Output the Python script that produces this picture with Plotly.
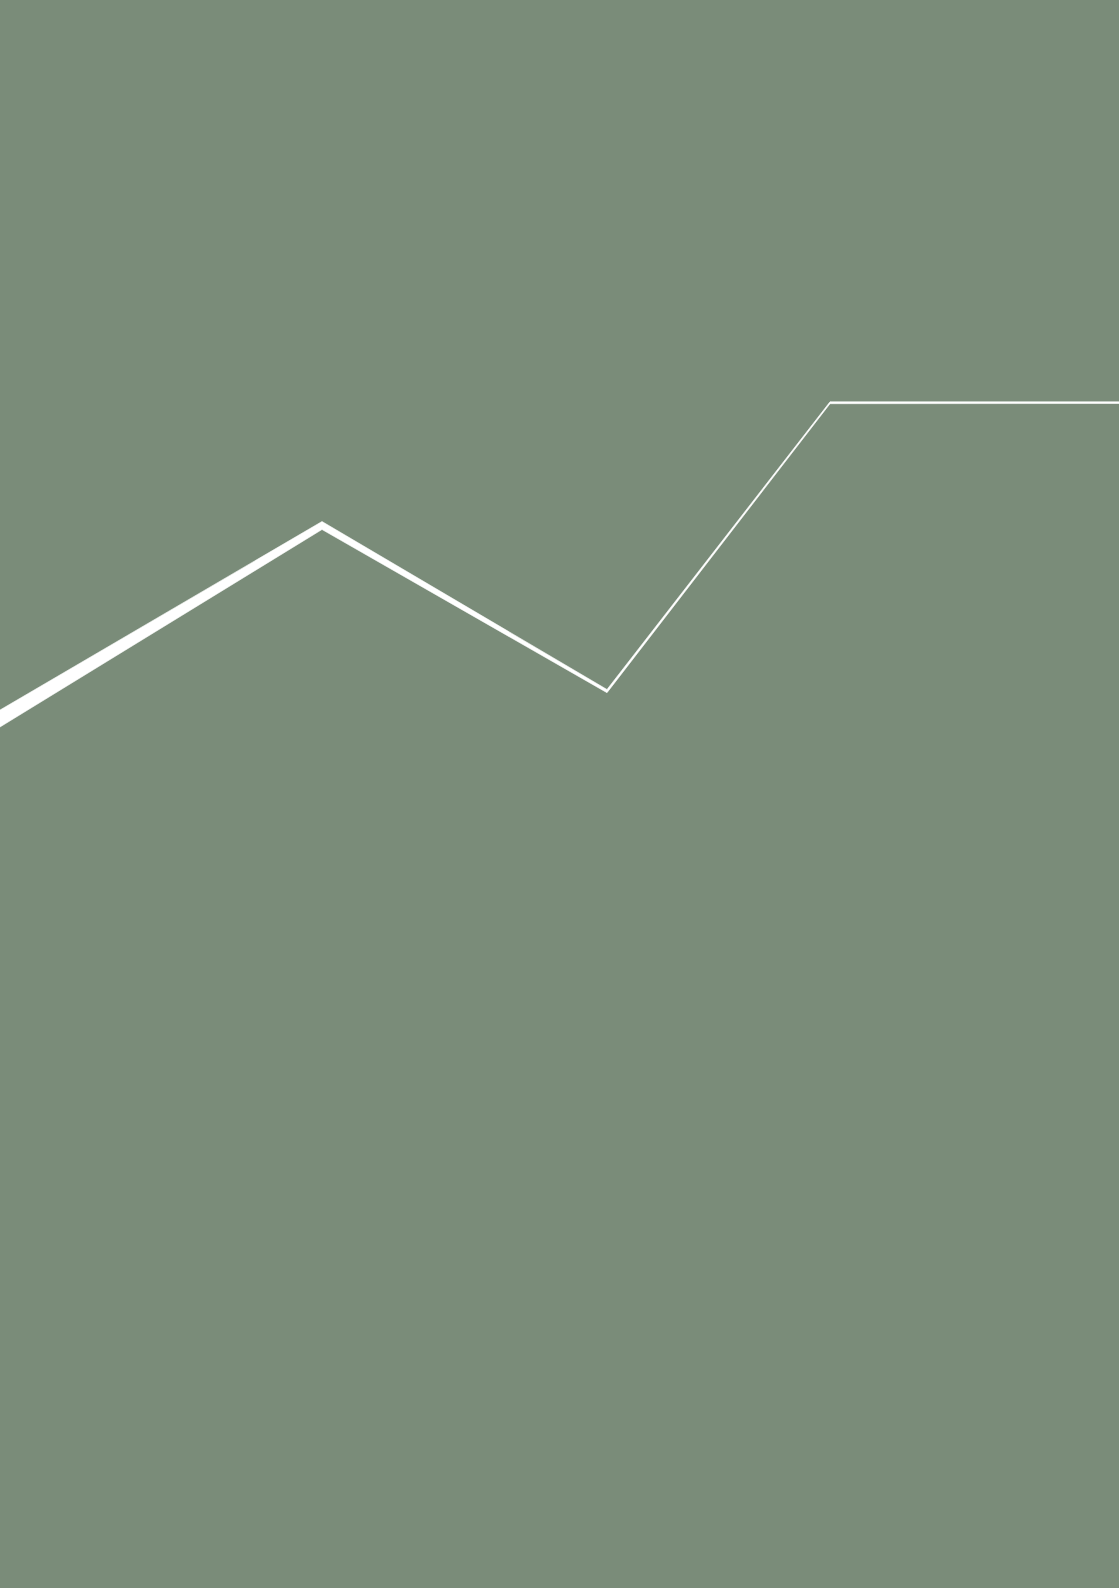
import plotly.graph_objects as go

# Data (x positions and upper/lower edge values of the white ribbon)
x_points = [0, 322, 607, 830, 1119]
upper = [878, 1066.5, 898.5, 1186.2, 1186.2]
lower = [861, 1058.5, 895.3, 1184.3, 1184.5]

BG = "rgb(122,140,121)"

fig = go.Figure()
fig.add_trace(go.Scatter(x=x_points, y=lower, mode="lines",
                         line=dict(color="white", width=0.6),
                         hoverinfo="skip", showlegend=False))
fig.add_trace(go.Scatter(x=x_points, y=upper, mode="lines",
                         line=dict(color="white", width=0.6),
                         fill="tonexty", fillcolor="white",
                         hoverinfo="skip", showlegend=False))

fig.update_layout(
    width=1119, height=1588, autosize=False,
    margin=dict(l=0, r=0, t=0, b=0, pad=0),
    paper_bgcolor=BG, plot_bgcolor=BG,
    xaxis=dict(range=[0, 1119], visible=False, fixedrange=True),
    yaxis=dict(range=[0, 1588], visible=False, fixedrange=True),
)

fig.write_html("out.html", config={"displayModeBar": False},
               post_script="document.body.style.margin='0';document.body.style.background='%s';document.documentElement.style.background='%s';" % (BG, BG))
